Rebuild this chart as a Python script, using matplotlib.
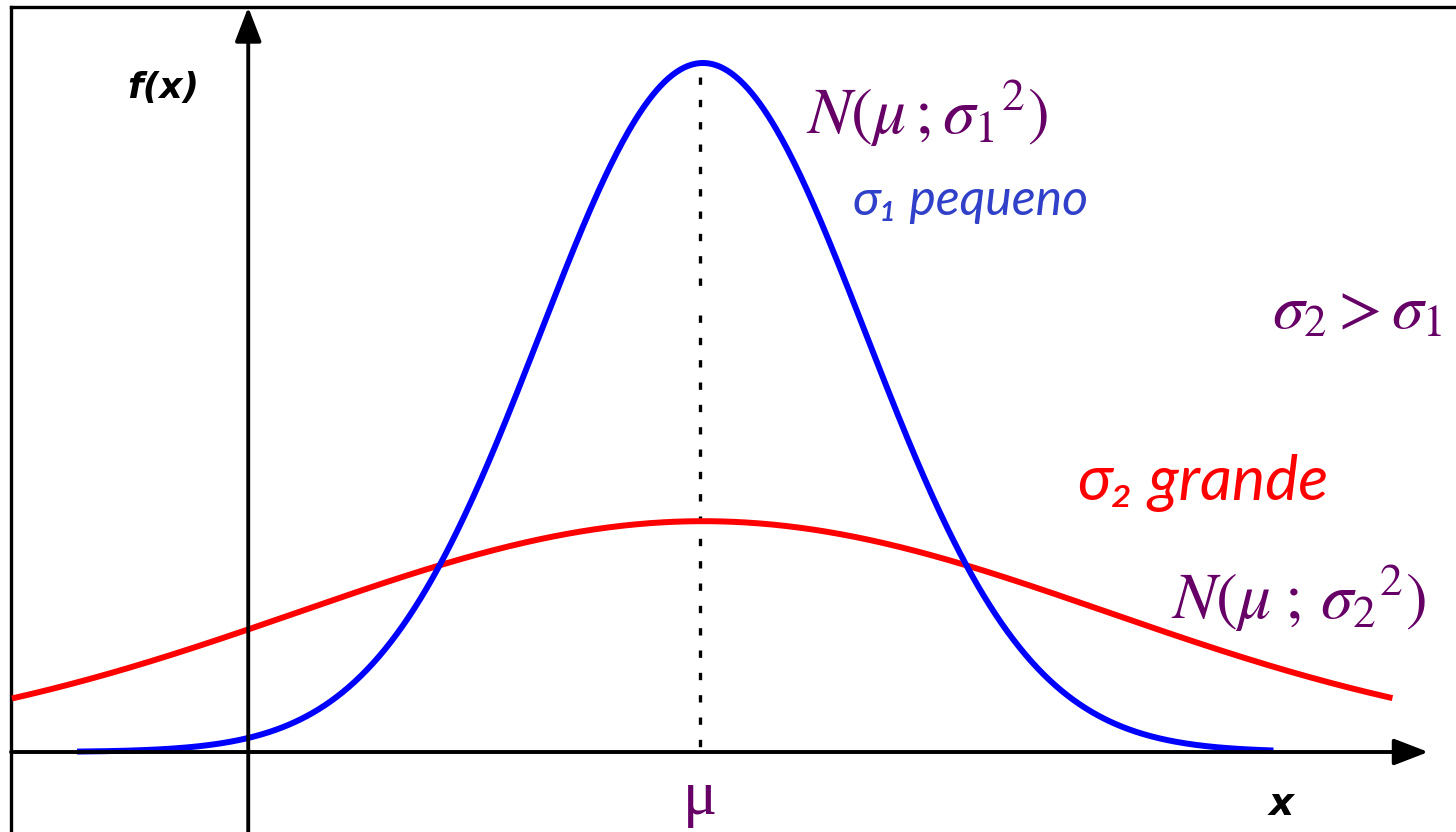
import numpy as np
import matplotlib
matplotlib.use("Agg")
import matplotlib.pyplot as plt

# Two normal curves sharing the same mean, different spread
mu = 0.0
sigma1 = 1.0          # narrow curve
sigma2 = 2.48         # wide curve
peak1 = 1.0           # drawn peak height of the narrow curve
peak2 = 0.335         # drawn peak height of the wide curve
x1_range = (-3.84, 3.50)
x2_range = (-4.24, 4.23)

# Axis geometry (data units)
yaxis_x = -2.79
xaxis_end = 4.45
yaxis_top = 1.081
frame_left = -4.245
frame_top = 1.081

PURPLE = "#660066"
BLUE = "#0000ff"
RED = "#ff0000"
HAND_BLUE = "#3040c8"

plt.rcParams["mathtext.fontset"] = "stix"

fig = plt.figure(figsize=(14.56, 8.32), dpi=100)
ax = fig.add_axes([0, 0, 1, 1])
ax.set_xlim(-4.313, 4.620)
ax.set_ylim(-0.1161, 1.0914)
ax.axis("off")


def bell(x, center, sigma, peak):
    return peak * np.exp(-0.5 * ((x - center) / sigma) ** 2)


xa = np.linspace(*x2_range, 600)
ax.plot(xa, bell(xa, mu, sigma2, peak2), color=RED, lw=4.3, solid_capstyle="butt", zorder=3)
xb = np.linspace(*x1_range, 600)
ax.plot(xb, bell(xb, mu, sigma1, peak1), color=BLUE, lw=4.3, solid_capstyle="butt", zorder=4)

# frame (left and top edges)
ax.plot([frame_left, frame_left], [-0.2, frame_top], color="black", lw=2.4, clip_on=False)
ax.plot([frame_left, 5.0], [frame_top, frame_top], color="black", lw=2.4, clip_on=False)

# coordinate axes with arrowheads
arrow = dict(arrowstyle="-|>,head_length=0.7,head_width=0.27", lw=2.8,
             color="black", mutation_scale=30, shrinkA=0, shrinkB=0)
ax.annotate("", xy=(yaxis_x, yaxis_top), xytext=(yaxis_x, -0.2), arrowprops=arrow, zorder=5)
ax.annotate("", xy=(xaxis_end, 0), xytext=(frame_left, 0), arrowprops=arrow, zorder=5)

# mean marker
dots = dict(color="black", lw=2.4, linestyle=(0, (2.2, 4.5)), zorder=2)
ax.plot([mu - 0.02, mu - 0.02], [0.98, 0.67], **dots)
ax.plot([mu - 0.02, mu - 0.02], [0.634, 0.0], **dots)

# axis labels
ax.text(-3.31, 0.963, "f(x)", fontsize=26, fontweight="bold", fontstyle="italic",
        ha="center", va="center", family="DejaVu Sans")
ax.text(3.55, -0.075, "x", fontsize=28, fontweight="bold", fontstyle="italic",
        ha="center", va="center", family="DejaVu Sans")
ax.text(mu - 0.02, -0.068, "μ", fontsize=46, color=PURPLE, ha="center", va="center",
        family="Liberation Serif")

# formula annotations
ax.text(0.63, 0.927, r"$N(\mu\,;\sigma_1{}^2)$", fontsize=47, color=PURPLE, ha="left", va="center")
ax.text(3.49, 0.641, r"$\sigma_2>\sigma_1$", fontsize=46, color=PURPLE, ha="left", va="center")
ax.text(2.87, 0.2235, r"$N(\mu\;;\,\sigma_2{}^2)$", fontsize=47, color=PURPLE, ha="left", va="center")

# handwritten-style notes
ax.text(0.92, 0.80, "σ₁ pequeno", fontsize=36, color=HAND_BLUE, fontstyle="italic",
        family="Lato", ha="left", va="center")
ax.text(2.30, 0.39, "σ₂ grande", fontsize=45, color=RED, fontstyle="italic",
        family="Lato", ha="left", va="center")

fig.savefig("out.png", dpi=100, facecolor="white")
